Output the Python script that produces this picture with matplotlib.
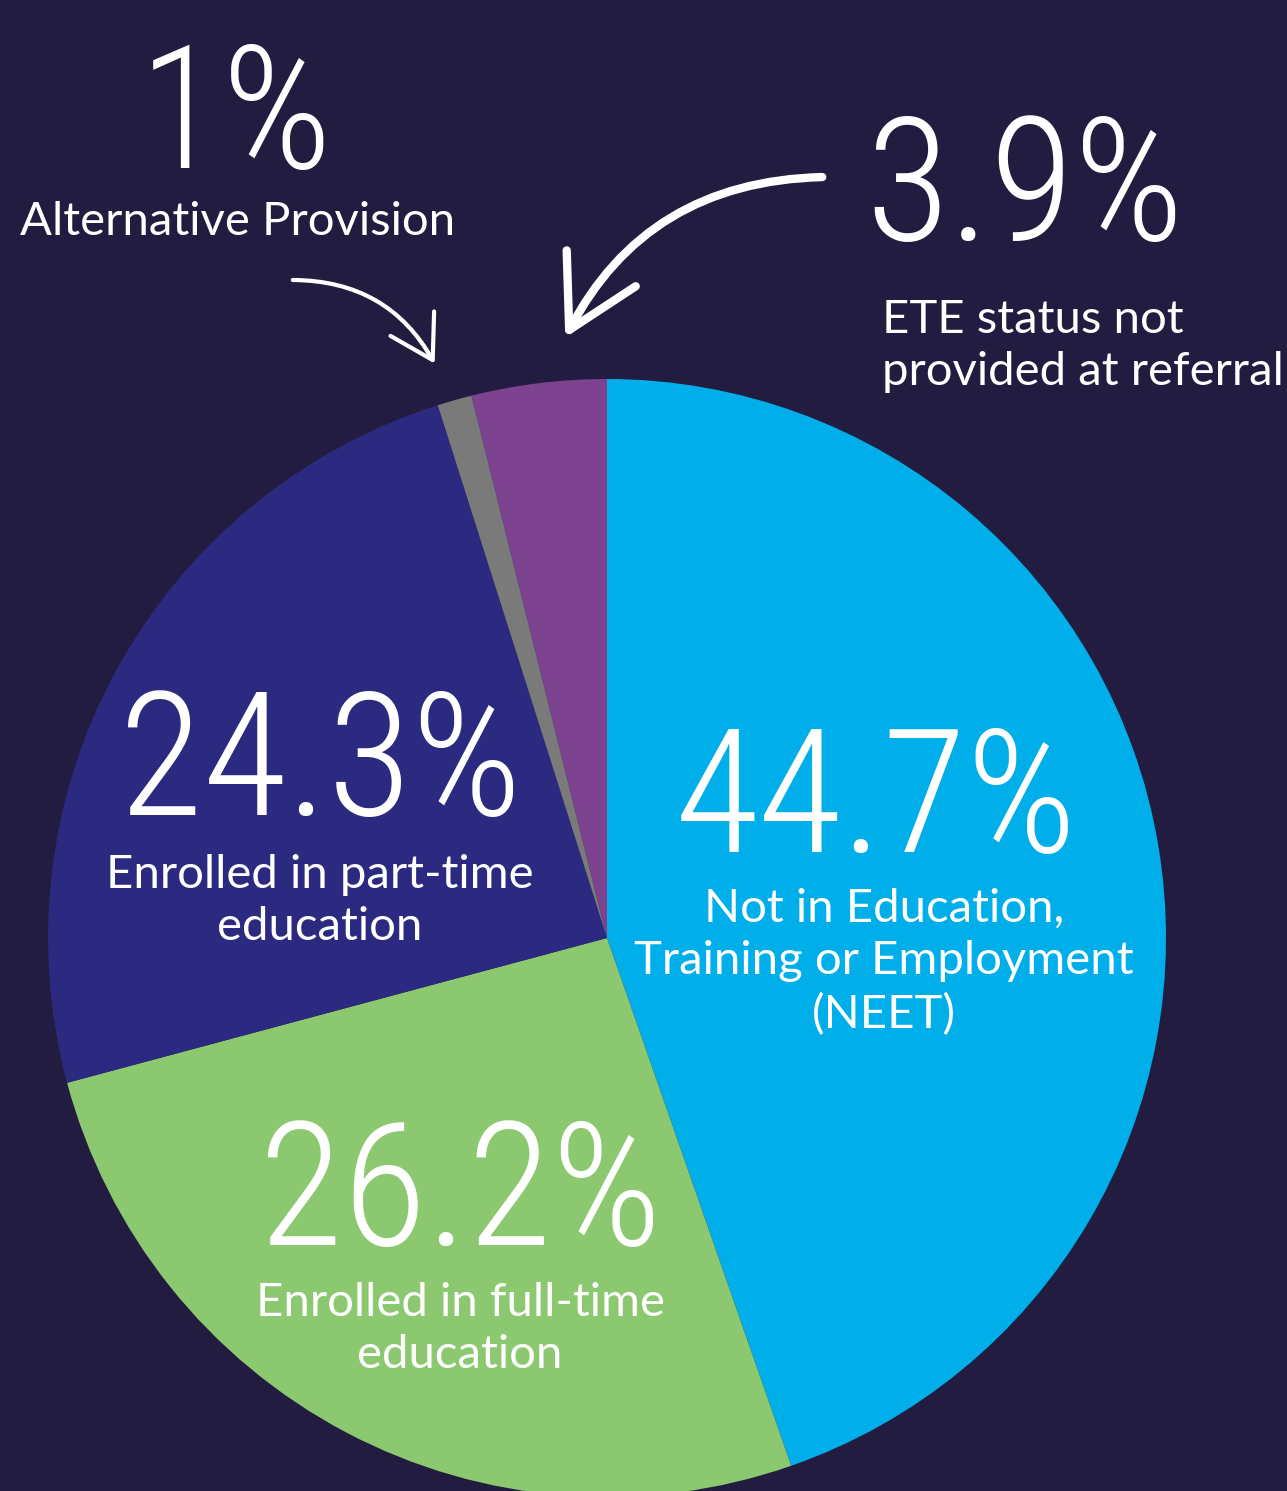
import matplotlib
matplotlib.use("Agg")
from matplotlib import pyplot as plt
from matplotlib.patches import FancyArrowPatch

# slice values, clockwise from 12 o'clock
labels = ["Not in Education,\nTraining or Employment\n(NEET)",
          "Enrolled in full-time\neducation",
          "Enrolled in part-time\neducation",
          "Alternative Provision",
          "ETE status not\nprovided at referral"]
values = [44.7, 26.2, 24.3, 1.0, 3.9]
colors = ["#00AEEA", "#8CC870", "#2B2A80", "#7A7A7A", "#7D4391"]
pct_text = ["44.7%", "26.2%", "24.3%", "1%", "3.9%"]

bg = "#221C40"
W, H = 1287, 1491
small_font = ["Lato", "DejaVu Sans"]
big_font = ["Roboto Condensed", "Open Sans Condensed", "DejaVu Sans"]

fig = plt.figure(figsize=(W / 100, H / 100), dpi=100, facecolor=bg)
ax = fig.add_axes([0, 0, 1, 1])
ax.set_facecolor(bg)

ax.pie(values, colors=colors, startangle=90, counterclock=False,
       center=(607, H - 938), radius=559, frame=True,
       wedgeprops=dict(linewidth=0))
ax.set_xlim(0, W)
ax.set_ylim(0, H)
ax.set_aspect("equal")
ax.axis("off")

def y(px):
    return H - px

# big percentages: centre x, baseline y (pixels from top)
big = [(876, 852), (460, 1245), (320, 815), (236, 168), (1025, 240)]
for (bx, by), t in zip(big, pct_text):
    ax.text(bx, y(by), t, color="white", fontsize=124, family=big_font,
            fontweight="light", ha="center", va="baseline")

kw = dict(color="white", fontsize=34, family=small_font, linespacing=1.3)
ax.text(884, y(962), labels[0], ha="center", va="center", **kw)
ax.text(460, y(1329), labels[1], ha="center", va="center", **kw)
ax.text(320, y(901), labels[2], ha="center", va="center", **kw)
ax.text(20, y(222), labels[3], ha="left", va="center", **kw)
ax.text(882, y(346), labels[4], ha="left", va="center", **kw)

a1 = FancyArrowPatch((290, y(280)), (436, y(366)),
                     connectionstyle="arc3,rad=-0.3",
                     arrowstyle="->,head_length=1.5,head_width=0.9",
                     color="white", lw=3, mutation_scale=20)
a2 = FancyArrowPatch((825, y(177)), (564, y(340)),
                     connectionstyle="arc3,rad=0.3",
                     arrowstyle="->,head_length=2.5,head_width=1.4",
                     color="white", lw=6, mutation_scale=20)
ax.add_patch(a1)
ax.add_patch(a2)

fig.savefig("out.png", dpi=100, facecolor=bg)
